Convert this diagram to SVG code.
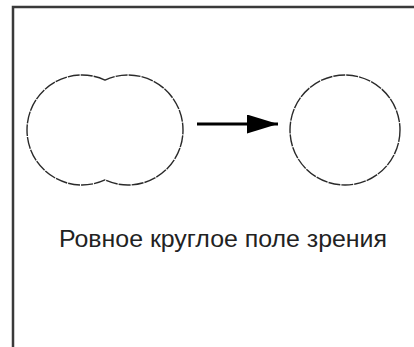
<svg xmlns="http://www.w3.org/2000/svg" width="414" height="347" viewBox="0 0 414 347">
<style>
.frame{fill:none;stroke:#3a3a3a;stroke-width:2.5}
.field{fill:none;stroke:#2a2a2a;stroke-width:1.4;stroke-dasharray:12 1}
.lbl{font-family:"Liberation Sans",Arial,sans-serif;font-size:24px;fill:#222}
</style>
<defs>
<marker id="ah" markerUnits="userSpaceOnUse" markerWidth="32" markerHeight="20" refX="31" refY="9.5" orient="auto">
<path d="M0,0 L31,9.5 L0,19 Z" fill="#000"/>
</marker>
</defs>
<rect width="414" height="347" fill="#fff"/>
<g id="frame">
<path class="frame" d="M13,347 L13,7 L414,7"/>
</g>
<g id="node-double">
<path class="field" d="M105,80.04 A55,55 0 1,0 105,179.96 A55,55 0 1,0 105,80.04 Z"/>
</g>
<g id="node-single">
<circle class="field" cx="345" cy="130" r="55"/>
</g>
<g id="connectors">
<line x1="197" y1="124" x2="278" y2="124" stroke="#000" stroke-width="3" marker-end="url(#ah)"/>
</g>
<g id="label">
<text class="lbl" x="223" y="247" text-anchor="middle" textLength="328" lengthAdjust="spacingAndGlyphs">Ровное круглое поле зрения</text>
</g>
</svg>
